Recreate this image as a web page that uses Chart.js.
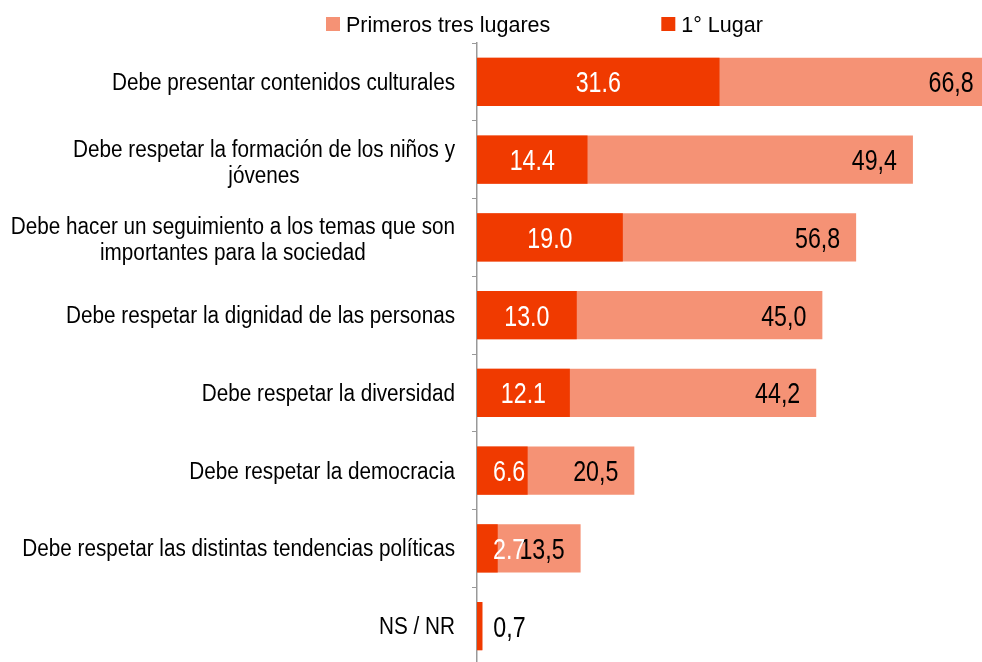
<!DOCTYPE html>
<html>
<head>
<meta charset="utf-8">
<script src="https://cdn.jsdelivr.net/npm/chart.js@4.4.0/dist/chart.umd.min.js"></script>
<style>
    html, body { margin: 0; padding: 0; background: #fff; overflow: hidden; }
    #wrap { position: relative; width: 982px; height: 665px; }
</style>
</head>
<body>
<div id="wrap"><canvas id="Chart"></canvas></div>
<script>
// categorias (las que tienen dos lineas van como arreglo)
const categories = [
    'Debe presentar contenidos culturales',
    ['Debe respetar la formación de los niños y', 'jóvenes'],
    ['Debe hacer un seguimiento a los temas que son', 'importantes para la sociedad'],
    'Debe respetar la dignidad de las personas',
    'Debe respetar la diversidad',
    'Debe respetar la democracia',
    'Debe respetar las distintas tendencias políticas',
    'NS / NR'
];
const seriesNames = ['Primeros tres lugares', '1° Lugar'];

// largo de las barras tal como aparecen
const primerosTres = [66.8, 56.8, 49.4, 45.0, 44.2, 20.5, 13.5, 0.7];
const primerLugar = [31.6, 14.4, 19.0, 13.0, 12.1, 6.6, 2.7, 0.7];

// etiquetas impresas en el grafico original
const primerosTresLabels = ['66,8', '49,4', '56,8', '45,0', '44,2', '20,5', '13,5', '0,7'];
const primerLugarLabels = ['31.6', '14.4', '19.0', '13.0', '12.1', '6.6', '2.7', ''];

const colorLight = '#F59275';
const colorRed = '#F03A00';
const fontFamily = "'Liberation Sans', Arial, sans-serif";

document.addEventListener("DOMContentLoaded", function () {

    // etiquetas del eje y (linea corta centrada bajo la larga)
    const yLabelsPlugin = {
        id: 'yLabels',
        afterDraw(chart) {
            const ctx = chart.ctx;
            const yScale = chart.scales.y;
            const right = chart.chartArea.left - 22;
            const lineH = 26;
            const squeeze = 0.9;
            ctx.save();
            ctx.font = '23px ' + fontFamily;
            ctx.fillStyle = '#000';
            ctx.textAlign = 'center';
            ctx.textBaseline = 'alphabetic';
            categories.forEach((cat, i) => {
                const lines = Array.isArray(cat) ? cat : [cat];
                const maxW = Math.max(...lines.map(l => ctx.measureText(l).width)) * squeeze;
                const cx = right - maxW / 2;
                const yc = yScale.getPixelForValue(i) + (lines.length > 1 ? 2 : 0);
                lines.forEach((l, j) => {
                    const y = yc + (j - (lines.length - 1) / 2) * lineH + 8;
                    ctx.save();
                    ctx.translate(cx, y);
                    ctx.scale(squeeze, 1);
                    ctx.fillText(l, 0, 0);
                    ctx.restore();
                });
            });
            ctx.restore();
        }
    };

    // valores sobre las barras, letra angosta
    const valueLabelsPlugin = {
        id: 'valueLabels',
        afterDatasetsDraw(chart) {
            const ctx = chart.ctx;
            const squeeze = 0.8;
            const size = 29;
            ctx.save();
            ctx.font = size + 'px ' + fontFamily;
            ctx.textBaseline = 'alphabetic';
            ctx.textAlign = 'left';

            const drawText = (txt, left, y, color) => {
                ctx.save();
                ctx.fillStyle = color;
                ctx.translate(left, y + size * 0.716 / 2);
                ctx.scale(squeeze, 1);
                ctx.fillText(txt, 0, 0);
                ctx.restore();
            };

            const metaLight = chart.getDatasetMeta(0);
            const metaRed = chart.getDatasetMeta(1);

            metaLight.data.forEach((bar, i) => {
                const txt = primerosTresLabels[i];
                const w = ctx.measureText(txt).width * squeeze;
                const len = bar.x - bar.base;
                let left;
                if (w + 16 < len) left = bar.x - 16 - w;
                else left = bar.x + 11;
                drawText(txt, left, bar.y, '#000');
            });

            metaRed.data.forEach((bar, i) => {
                const txt = primerLugarLabels[i];
                if (!txt) return;
                const w = ctx.measureText(txt).width * squeeze;
                const left = Math.max((bar.base + bar.x) / 2 - w / 2, bar.base + 16);
                drawText(txt, left, bar.y, '#fff');
            });
            ctx.restore();
        }
    };

    // leyenda arriba
    const legendPlugin = {
        id: 'topLegend',
        afterDraw(chart) {
            const ctx = chart.ctx;
            ctx.save();
            ctx.font = '21.5px ' + fontFamily;
            ctx.textBaseline = 'alphabetic';
            ctx.textAlign = 'left';
            let x = 326;
            const items = [
                { text: seriesNames[0], color: colorLight },
                { text: seriesNames[1], color: colorRed }
            ];
            items.forEach(item => {
                ctx.fillStyle = item.color;
                ctx.fillRect(x, 17, 14, 14);
                ctx.fillStyle = '#000';
                ctx.fillText(item.text, x + 20, 31.5);
                x += 20 + ctx.measureText(item.text).width + 111;
            });
            ctx.restore();
        }
    };

    const dataForChart = {
        labels: categories,
        datasets: [
            {
                label: seriesNames[0],
                data: primerosTres,
                backgroundColor: colorLight,
                borderWidth: 0,
                barPercentage: 0.62,
                categoryPercentage: 1,
                grouped: false,
                order: 2
            },
            {
                label: seriesNames[1],
                data: primerLugar,
                backgroundColor: colorRed,
                borderWidth: 0,
                barPercentage: 0.62,
                categoryPercentage: 1,
                grouped: false,
                order: 1
            }
        ]
    };

    const config = {
        type: 'bar',
        data: dataForChart,
        plugins: [yLabelsPlugin, valueLabelsPlugin, legendPlugin],
        options: {
            indexAxis: 'y',
            responsive: true,
            maintainAspectRatio: false,
            animation: false,
            layout: { padding: { top: 43, right: 0, bottom: 0, left: 0 } },
            plugins: {
                legend: { display: false },
                tooltip: { enabled: false }
            },
            scales: {
                x: {
                    display: false,
                    min: 0,
                    max: 65.8
                },
                y: {
                    grid: {
                        drawOnChartArea: false,
                        drawTicks: true,
                        tickLength: 5,
                        color: '#999',
                        offset: true
                    },
                    border: { color: '#999', width: 1.5 },
                    ticks: { display: false },
                    afterFit(scale) {
                        scale.width = 477;
                    }
                }
            }
        }
    };

    new Chart(document.getElementById('Chart'), config);
});
</script>
</body>
</html>
